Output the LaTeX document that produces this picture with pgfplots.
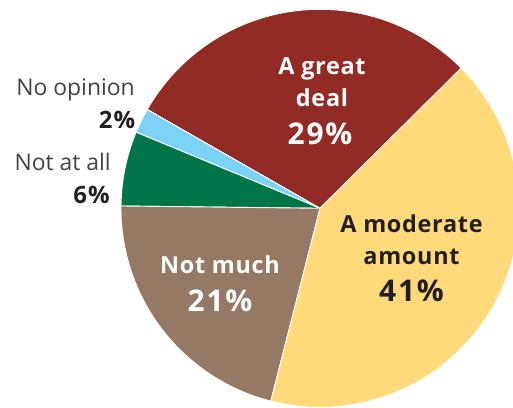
\documentclass[border=0pt]{standalone}
\usepackage{fontspec}
\setmainfont{Open Sans}
\usepackage{pgfplots}
\pgfplotsset{compat=1.18}
\definecolor{cGD}{HTML}{922A25}
\definecolor{cMA}{HTML}{FFD97A}
\definecolor{cNM}{HTML}{957964}
\definecolor{cNA}{HTML}{007548}
\definecolor{cNO}{HTML}{7DD3F7}
\definecolor{ctxt}{HTML}{231F20}
% data (percent)
\def\vGD{29}\def\vNO{2}\def\vNA{6}\def\vNM{21}\def\vMA{41}
\pgfmathsetmacro\tot{\vGD+\vNO+\vNA+\vNM+\vMA}
\pgfmathsetmacro\aA{44.8}
\pgfmathsetmacro\aB{\aA+\vGD/\tot*360}
\pgfmathsetmacro\aC{\aB+\vNO/\tot*360}
\pgfmathsetmacro\aD{\aC+\vNA/\tot*360}
\pgfmathsetmacro\aE{\aD+\vNM/\tot*360}
\pgfmathsetmacro\aF{\aE+\vMA/\tot*360}
\def\cx{320}\def\cy{199.7}\def\R{199}
\newcommand\lab[1]{\fontsize{23.5}{26}\selectfont\bfseries\addfontfeatures{LetterSpace=3}#1}
\newcommand\pct[1]{\fontsize{30}{32}\selectfont\bfseries\addfontfeatures{LetterSpace=6}#1}
\newcommand\plab[1]{\fontsize{24}{26}\selectfont\bfseries\addfontfeatures{LetterSpace=5}#1}
\newcommand\rlab[1]{\fontsize{23}{26}\selectfont #1}
\begin{document}
\begin{tikzpicture}
\begin{axis}[width=513bp,height=408bp,scale only axis,
  xmin=0,xmax=513,ymin=0,ymax=408,hide axis,clip=true]
\pgfplotsset{slice/.style={draw=white,line width=0.9pt,line join=round,samples=90,variable=\t}}
\addplot[slice,fill=cGD,domain=\aA:\aB] ({\cx+\R*cos(\t)},{\cy+\R*sin(\t)}) -- (\cx,\cy) -- cycle;
\addplot[slice,fill=cNO,domain=\aB:\aC] ({\cx+\R*cos(\t)},{\cy+\R*sin(\t)}) -- (\cx,\cy) -- cycle;
\addplot[slice,fill=cNA,domain=\aC:\aD] ({\cx+\R*cos(\t)},{\cy+\R*sin(\t)}) -- (\cx,\cy) -- cycle;
\addplot[slice,fill=cNM,domain=\aD:\aE] ({\cx+\R*cos(\t)},{\cy+\R*sin(\t)}) -- (\cx,\cy) -- cycle;
\addplot[slice,fill=cMA,domain=\aE:\aF] ({\cx+\R*cos(\t)},{\cy+\R*sin(\t)}) -- (\cx,\cy) -- cycle;
% labels
\node[anchor=base,text=white] at (322,333) {\lab{A great}};
\node[anchor=base,text=white] at (322,301.3) {\lab{deal}};
\node[anchor=base,text=white] at (320,263) {\pct{29\%}};
\node[anchor=base,text=ctxt] at (411.5,175.7) {\lab{A moderate}};
\node[anchor=base,text=ctxt] at (411.5,143) {\lab{amount}};
\node[anchor=base,text=ctxt] at (411.5,106.3) {\pct{41\%}};
\node[anchor=base,text=white] at (220,134.7) {\lab{Not much}};
\node[anchor=base,text=white] at (220,96.3) {\pct{21\%}};
\node[anchor=base east,inner xsep=0pt,text=ctxt!85] at (135,312) {\rlab{No opinion}};
\node[anchor=base east,inner xsep=0pt,text=ctxt] at (135.5,279.7) {\plab{2\%}};
\node[anchor=base east,inner xsep=0pt,text=ctxt!85] at (111,237.3) {\rlab{Not at all}};
\node[anchor=base east,inner xsep=0pt,text=ctxt] at (110,204.7) {\plab{6\%}};
\end{axis}
\pgfresetboundingbox
\useasboundingbox (0,0) rectangle (513bp,408bp);
\end{tikzpicture}
\end{document}
